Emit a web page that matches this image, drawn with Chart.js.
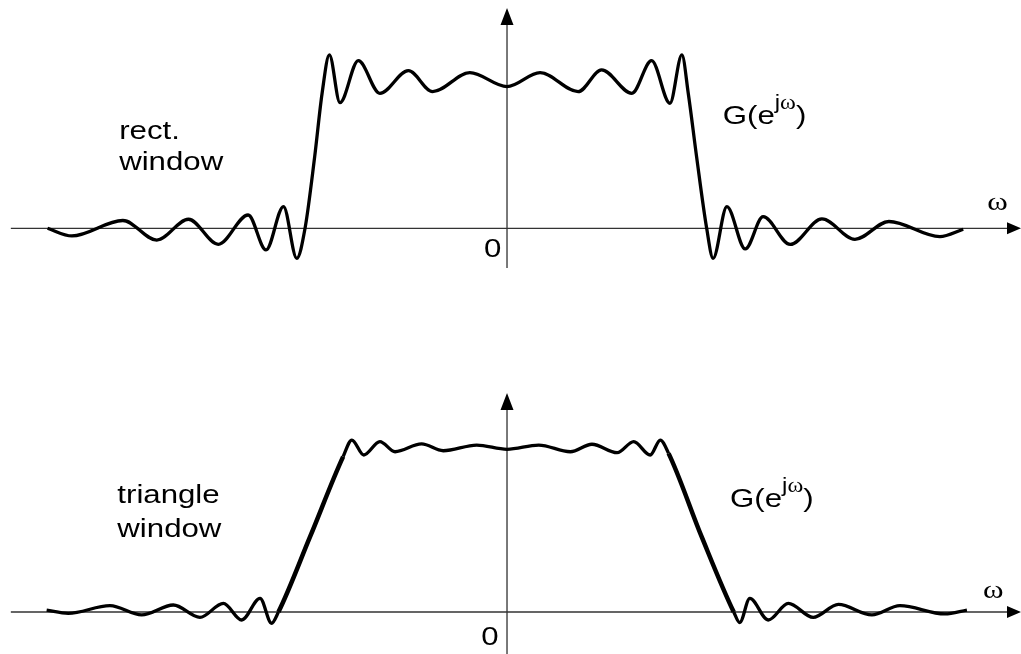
<!DOCTYPE html>
<html>
<head>
<meta charset="utf-8">
<script src="https://cdn.jsdelivr.net/npm/chart.js@4.4.1/dist/chart.umd.min.js"></script>
<style>
  body { margin: 0; background: #fff; }
  .panel { position: relative; width: 1021px; height: 327px; }
</style>
</head>
<body>
<div class="panel"><canvas id="rectChart" width="1021" height="327"></canvas></div>
<div class="panel"><canvas id="triChart" width="1021" height="327"></canvas></div>
<script>
// omega in units of pi, gain normalised so that G = 1 at omega = 0
const rectFreq = [-1.001, -0.948, -0.837, -0.763, -0.694, -0.629, -0.564, -0.525, -0.487, -0.458,
  -0.440, -0.419, -0.403, -0.387, -0.364, -0.324, -0.277, -0.215, -0.162, -0.081,
  0, 0.072, 0.155, 0.206, 0.272, 0.315, 0.355, 0.381, 0.395, 0.413,
  0.435, 0.449, 0.479, 0.519, 0.558, 0.617, 0.686, 0.758, 0.832, 0.943, 0.994];
const rectGain = [0, -0.054, 0.055, -0.083, 0.064, -0.113, 0.094, -0.153, 0.153, -0.212,
  0, 0.506, 0.950, 1.224, 0.887, 1.184, 0.953, 1.113, 0.965, 1.099,
  1.0, 1.099, 0.965, 1.118, 0.953, 1.184, 0.883, 1.224, 0.950, 0.506,
  0, -0.212, 0.153, -0.146, 0.082, -0.114, 0.066, -0.078, 0.048, -0.059, -0.007];

const triFreq = [-1.003, -0.956, -0.865, -0.796, -0.727, -0.669, -0.618, -0.578, -0.538, -0.513,
  -0.498, -0.429, -0.357, -0.338, -0.312, -0.277, -0.244, -0.186, -0.139, -0.066,
  0, 0.069, 0.138, 0.185, 0.240, 0.276, 0.312, 0.334, 0.352, 0.424,
  0.494, 0.507, 0.529, 0.569, 0.613, 0.667, 0.722, 0.795, 0.856, 0.954, 1.002];
const triGain = [0.012, -0.008, 0.039, -0.018, 0.043, -0.033, 0.053, -0.049, 0.084, -0.069,
  0, 0.463, 0.955, 1.057, 0.965, 1.047, 0.985, 1.033, 0.991, 1.026,
  1.0, 1.026, 0.985, 1.031, 0.979, 1.047, 0.965, 1.057, 0.975, 0.463,
  0, -0.065, 0.084, -0.049, 0.053, -0.033, 0.047, -0.018, 0.039, -0.012, 0.012];

const sans = '"Liberation Sans", Arial, Helvetica, sans-serif';
const serif = '"Liberation Serif", "Times New Roman", serif';
const stretch = 1.2;

const toPoints = (xs, ys) => xs.map((x, i) => ({ x: x, y: ys[i] }));

// G(e^jw) as a run of pieces, superscript raised off the baseline
const transferLabel = [
  { text: 'G(e', font: '26px ' + sans, dy: 0 },
  { text: 'j', font: '20px ' + sans, dy: -15 },
  { text: 'ω', font: '20px ' + serif, dy: -15 },
  { text: ')', font: '26px ' + sans, dy: 0 }
];

// arrowed axes under the curve, text on top of it
const diagramPlugin = {
  id: 'diagram',
  beforeDatasetsDraw(chart, args, opts) {
    const ctx = chart.ctx;
    const xs = chart.scales.x, ys = chart.scales.y;
    const x0 = xs.getPixelForValue(0), y0 = ys.getPixelForValue(0);
    const xl = xs.getPixelForValue(opts.xFrom), xr = xs.getPixelForValue(opts.xTo);
    const yb = ys.getPixelForValue(opts.yFrom), yt = ys.getPixelForValue(opts.yTo);
    ctx.save();
    ctx.strokeStyle = '#333';
    ctx.lineWidth = 1.3;
    ctx.beginPath();
    ctx.moveTo(xl, y0);
    ctx.lineTo(xr - 10, y0);
    ctx.moveTo(x0, yb);
    ctx.lineTo(x0, yt + 12);
    ctx.stroke();
    ctx.fillStyle = '#000';
    ctx.beginPath();
    ctx.moveTo(xr, y0);
    ctx.lineTo(xr - 14, y0 - 6);
    ctx.lineTo(xr - 14, y0 + 6);
    ctx.closePath();
    ctx.moveTo(x0, yt);
    ctx.lineTo(x0 - 6.5, yt + 17);
    ctx.lineTo(x0 + 6.5, yt + 17);
    ctx.closePath();
    ctx.fill();
    ctx.restore();
  },
  afterDatasetsDraw(chart, args, opts) {
    const ctx = chart.ctx;
    const xs = chart.scales.x, ys = chart.scales.y;
    ctx.save();
    ctx.fillStyle = '#000';
    ctx.textBaseline = 'alphabetic';
    opts.labels.forEach(l => {
      const parts = l.parts || [{ text: l.text, font: l.font, dy: 0 }];
      ctx.save();
      ctx.translate(xs.getPixelForValue(l.x), ys.getPixelForValue(l.y));
      ctx.scale(stretch, 1);
      let cx = 0;
      parts.forEach(p => {
        ctx.font = p.font;
        ctx.fillText(p.text, cx, p.dy);
        cx += ctx.measureText(p.text).width;
      });
      ctx.restore();
    });
    ctx.restore();
  }
};

function makeChart(id, freq, gain, range, diagram, thickRamp) {
  return new Chart(document.getElementById(id), {
    type: 'line',
    data: {
      datasets: [{
        data: toPoints(freq, gain),
        borderColor: '#000',
        borderWidth: 3.3,
        pointRadius: 0,
        cubicInterpolationMode: 'monotone',
        clip: false,
        segment: {
          borderWidth: c => (thickRamp && Math.abs(c.p1.parsed.y - c.p0.parsed.y) > 0.3 ? 4.5 : 3.3)
        }
      }]
    },
    options: {
      responsive: false,
      animation: false,
      layout: { padding: 0 },
      scales: {
        x: { type: 'linear', display: false, min: range.xMin, max: range.xMax },
        y: { type: 'linear', display: false, min: range.yMin, max: range.yMax }
      },
      plugins: {
        legend: { display: false },
        tooltip: { enabled: false },
        diagram: diagram
      }
    },
    plugins: [diagramPlugin]
  });
}

makeChart('rectChart', rectFreq, rectGain,
  { xMin: -1.1046, xMax: 1.1198, yMin: -0.697, yMax: 1.612 },
  {
    xFrom: -1.081, xTo: 1.1198, yFrom: -0.280, yTo: 1.556,
    labels: [
      { text: 'rect.', font: '26px ' + sans, x: -0.845, y: 0.631 },
      { text: 'window', font: '26px ' + sans, x: -0.845, y: 0.412 },
      { parts: transferLabel, x: 0.470, y: 0.737 },
      { text: 'ω', font: '26px ' + serif, x: 1.046, y: 0.129 },
      { text: '0', font: '26px ' + sans, x: -0.050, y: -0.203 }
    ]
  }, false);

makeChart('triChart', triFreq, triGain,
  { xMin: -1.1046, xMax: 1.1198, yMin: -0.2581, yMax: 1.7517 },
  {
    xFrom: -1.081, xTo: 1.1198, yFrom: -0.2581, yTo: 1.346,
    labels: [
      { text: 'triangle', font: '26px ' + sans, x: -0.849, y: 0.670 },
      { text: 'window', font: '26px ' + sans, x: -0.849, y: 0.463 },
      { parts: transferLabel, x: 0.486, y: 0.644 },
      { text: 'ω', font: '26px ' + serif, x: 1.037, y: 0.086 },
      { text: '0', font: '26px ' + sans, x: -0.056, y: -0.203 }
    ]
  }, true);
</script>
</body>
</html>
